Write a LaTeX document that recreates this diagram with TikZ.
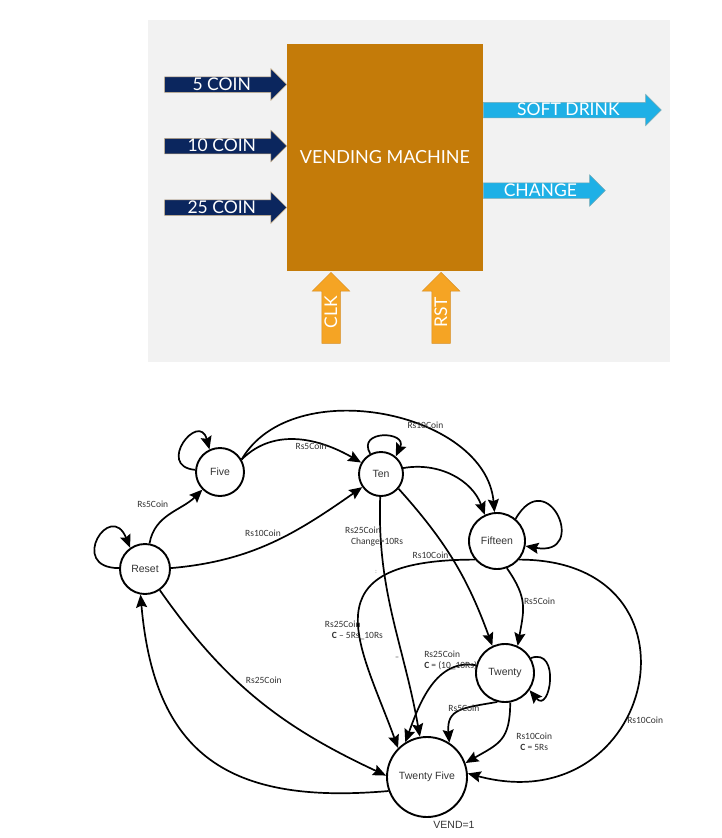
\documentclass[tikz,border=0pt]{standalone}
\usepackage{fontspec}
\setmainfont{Liberation Sans}
\newfontfamily\blockfont{Lato}
\newfontfamily\labelfont{Carlito}
\usepackage{tikz}
\usetikzlibrary{arrows.meta,shapes.arrows,positioning}

\definecolor{panel}{RGB}{242,242,242}
\definecolor{machine}{RGB}{196,123,9}
\definecolor{coin}{RGB}{11,38,94}
\definecolor{coinedge}{RGB}{196,170,130}
\definecolor{outblue}{RGB}{30,176,230}
\definecolor{outedge}{RGB}{120,170,180}
\definecolor{ctrl}{RGB}{245,164,36}
\definecolor{ctrledge}{RGB}{215,140,30}

\begin{document}
\begin{tikzpicture}[x=1pt, y=1pt,
		state/.style={draw, circle, line width=1.9pt, inner sep=0pt, text=black!80, font=\fontsize{10.5}{12}\selectfont},
		tr/.style={-{Stealth[length=13pt, width=11pt, inset=2pt]}, line width=1.7pt},
		lbl/.style={font=\labelfont\fontsize{9.5}{11}\selectfont, text=black!80, inner sep=1pt},
		sig/.style={single arrow, single arrow head extend=8pt, inner xsep=3pt, inner ysep=2pt, text height=11pt, text depth=0pt, text=white, line width=0.5pt, font=\blockfont\fontsize{17.5}{18}\selectfont},
		ctl/.style={sig, fill=ctrl, draw=ctrledge, rotate=90, minimum height=71pt, single arrow head extend=9.5pt, inner ysep=3pt, text height=12pt}
	]
	\useasboundingbox (0,0) rectangle (722,-838);

	% block diagram
	\fill[panel] (148,-20) rectangle (670,-362);
	\node[fill=machine, minimum width=196pt, minimum height=227pt, text=white, font=\blockfont\fontsize{18}{20}\selectfont] (VM) at (385,-157.5) {VENDING MACHINE};

	\node[sig, fill=coin, draw=coinedge, minimum height=122pt, anchor=tip] (C5) at (287,-84.5) {5 COIN};
	\node[sig, fill=coin, draw=coinedge, minimum height=122pt, anchor=tip] (C10) at (287,-146) {10 COIN};
	\node[sig, fill=coin, draw=coinedge, minimum height=122pt, anchor=tip] (C25) at (287,-207.5) {25 COIN};

	\node[sig, fill=outblue, draw=outedge, minimum height=178pt, anchor=tail] (SD) at (483,-110) {SOFT DRINK};
	\node[sig, fill=outblue, draw=outedge, minimum height=122pt, anchor=tail] (CH) at (483,-190.5) {CHANGE};

	\node[ctl, anchor=tip] (CLK) at (331,-272) {CLK};
	\node[ctl, anchor=tip] (RST) at (441,-272) {RST};

	% state diagram
	\node[state, minimum size=48pt] (Five) at (220,-472) {Five};
	\node[state, minimum size=44pt] (Ten) at (381,-474) {Ten};
	\node[state, minimum size=50pt] (Reset) at (145,-569) {Reset};
	\node[state, minimum size=56pt] (Fifteen) at (497,-541) {Fifteen};
	\node[state, minimum size=58pt] (Twenty) at (505,-673) {Twenty};
	\node[state, minimum size=80pt] (TwentyFive) at (427,-777) {Twenty Five};
	\node[font=\fontsize{10.5}{12}\selectfont, text=black!80, inner sep=1pt, below=2pt of TwentyFive, xshift=27pt] (Vend) {VEND=1};

	\path[tr] (Reset.178) edge[out=180, in=112, distance=52pt] (Reset.125);
	\path[tr] (Reset.80) edge[out=80, in=225] node[lbl, pos=0.5, anchor=south east, yshift=4pt] (L1) {Rs5Coin} (Five.225);
	\path[tr] (Reset.2) edge[out=5, in=215] node[lbl, pos=0.55, anchor=south east, xshift=2pt] (L2) {Rs10Coin} (Ten.215);
	\path[tr] (Reset.-55) edge[out=-55, in=155] node[lbl, pos=0.43, anchor=south west, yshift=2pt] (L3) {Rs25Coin} (TwentyFive.178);

	\path[tr] (Five.175) edge[out=175, in=105, distance=40pt] (Five.115);
	\path[tr] (Five.30) edge[out=45, in=150] node[lbl, below, pos=0.6, inner sep=0.5pt] (L4) {Rs5Coin} (Ten.150);
	\path[tr] (Five.30) edge[out=60, in=95] node[lbl, above, pos=0.63, inner sep=0pt] (L5) {Rs10Coin} (Fifteen.95);

	\path[tr] (Ten.118) edge[out=120, in=65, distance=28pt] (Ten.50);
	\path[tr] (Ten.15) edge[out=10, in=110] (Fifteen.115);
	\path[tr] (Ten.-40) edge[out=-48, in=110] node[lbl, left, pos=0.45, inner sep=0.5pt] (L6) {Rs10Coin} (Twenty.115);
	\path[tr] (Ten.-92) edge[out=-92, in=100] node[lbl, align=left, pos=0.15, xshift=-6.5pt] (L7) {Rs25Coin\\\hspace*{6pt}Change=10Rs} (TwentyFive.100);

	\path[tr] (Fifteen.50) edge[out=60, in=-10, distance=65pt] (Fifteen.-10);
	\path[tr] (Fifteen.-70) edge[out=-55, in=80, looseness=1.2] node[lbl, right, pos=0.45] (L8) {Rs5Coin} (Twenty.65);
	\path[tr] (Fifteen.-140) edge[out=180, in=110, out distance=170pt, in distance=110pt] node[lbl, align=left, pos=0.57, xshift=-5pt] (L9) {Rs25Coin\\\hspace*{7pt}\textbf{C} – 5Rs\_10Rs} (TwentyFive.135);
	\path[tr] (Fifteen.-40) edge[out=0, in=-15, distance=195pt] node[lbl, right, pos=0.6, xshift=2pt] (L10) {Rs10Coin} (TwentyFive.5);

	\path[tr] (Twenty.30) edge[out=20, in=-50, distance=32pt] (Twenty.-35);
	\path[tr] (Twenty.165) edge[out=170, in=70] node[lbl, align=left, pos=0.2, xshift=-4pt, yshift=6pt] (L11) {Rs25Coin\\\textbf{C} = (10\_10Rs)} (TwentyFive.122);
	\path[tr] (Twenty.-105) edge[out=190, in=95, looseness=1.4] node[lbl, pos=0.35, xshift=-4pt] (L12) {Rs5Coin} (TwentyFive.57);
	\path[tr] (Twenty.-80) edge[out=-90, in=30, looseness=1.3] node[lbl, align=center, pos=0.35, anchor=west, xshift=9pt, yshift=-10pt] (L13) {Rs10Coin\\\textbf{C} = 5Rs} (TwentyFive.20);

	\path[tr] (TwentyFive.200) edge[out=185, in=-85, looseness=1.3] (Reset.-100);

	% stray marks
	\node[lbl, text=black!45, font=\labelfont\fontsize{7}{8}\selectfont] (M1) at (376,-572) {:};
	\node[lbl, text=black!45, font=\labelfont\fontsize{7}{8}\selectfont] (M2) at (397,-658) {=};
\end{tikzpicture}
\end{document}
